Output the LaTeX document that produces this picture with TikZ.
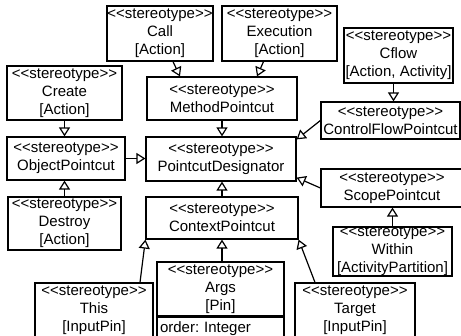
\documentclass[tikz,border=0pt]{standalone}
\usepackage{fontspec}
\setmainfont{Liberation Sans}
\usetikzlibrary{arrows.meta,calc}
\newcommand\sttype{<{}<stereotype>{}>}
\frenchspacing
\begin{document}
\begin{tikzpicture}[x=1pt,y=-1pt,
  box/.style={draw, line width=1.2pt, inner sep=0pt, align=center, font=\fontsize{15}{18}\selectfont},
  gen/.style={line width=1.2pt, -{Triangle[open,width=11pt,length=9pt]}}]
\useasboundingbox (0,0) rectangle (461,336);
\clip (0,0) rectangle (461,336);
% boxes
\node[box, minimum width=106, minimum height=55] (call) at (160,33.5) {\sttype\\Call\\{}[Action]};
\node[box, minimum width=115, minimum height=55] (exec) at (279.5,33.5) {\sttype\\Execution\\{}[Action]};
\node[box, minimum width=109, minimum height=55] (cflow) at (398.5,55.5) {\sttype\\Cflow\\{}[Action, Activity]};
\node[box, minimum width=150, minimum height=43] (mp) at (222,98.5) {\sttype\\MethodPointcut};
\node[box, minimum width=115, minimum height=54] (create) at (64.5,93) {\sttype\\Create\\{}[Action]};
\node[box, minimum width=118, minimum height=43] (op) at (66,158.5) {\sttype\\ObjectPointcut};
\node[box, minimum width=150, minimum height=44] (pd) at (221,159) {\sttype\\PointcutDesignator};
\node[box, minimum width=139, minimum height=37] (cfp) at (390.5,120.5) {\sttype\\ControlFlowPointcut};
\node[box, minimum width=142, minimum height=38] (sp) at (392,188) {\sttype\\ScopePointcut};
\node[box, minimum width=113, minimum height=53] (destroy) at (64.5,223.5) {\sttype\\Destroy\\{}[Action]};
\node[box, minimum width=152, minimum height=42] (ctx) at (222,218) {\sttype\\ContextPointcut};
\node[box, minimum width=119, minimum height=49] (within) at (392.5,251.5) {\sttype\\Within\\{}[ActivityPartition]};
\node[box, minimum width=127, minimum height=54] (args) at (220.5,289) {\sttype\\Args\\{}[Pin]};
\node[box, minimum width=127, minimum height=22, anchor=north west, text width=121, align=left, inner xsep=3pt] (argsattr) at (args.south west) {order: Integer};
\node[box, minimum width=118, minimum height=55] (this) at (94,310.5) {\sttype\\This\\{}[InputPin]};
\node[box, minimum width=120, minimum height=55] (target) at (355,310.5) {\sttype\\Target\\{}[InputPin]};
% generalizations
\draw[gen] ($(call.south)+(13,0)$) -- ($(mp.north)+(-42,0)$);
\draw[gen] ($(exec.south)+(-16,0)$) -- ($(mp.north)+(35,0)$);
\draw[gen] ($(cflow.south)+(-5,0)$) -- ($(cfp.north)+(3,0)$);
\draw[gen] (create.south) -- (create.south |- op.north);
\draw[gen] (op.east) -- (op.east -| pd.west);
\draw[gen] (mp.south) -- (mp.south |- pd.north);
\draw[gen] (cfp.west) -- ($(pd.north east)+(0,3)$);
\draw[gen] (sp.west) -- ($(pd.south east)+(0,-4)$);
\draw[gen] (destroy.north) -- (destroy.north |- op.south);
\draw[gen] (ctx.north) -- (ctx.north |- pd.south);
\draw[gen] (within.north) -- (within.north |- sp.south);
\draw[gen] (args.north -| ctx.south) -- (ctx.south);
\draw[gen] ($(this.north)+(46,0)$) -- (ctx.south west);
\draw[gen] ($(target.north)+(-40,0)$) -- (ctx.south east);
\end{tikzpicture}
\end{document}
